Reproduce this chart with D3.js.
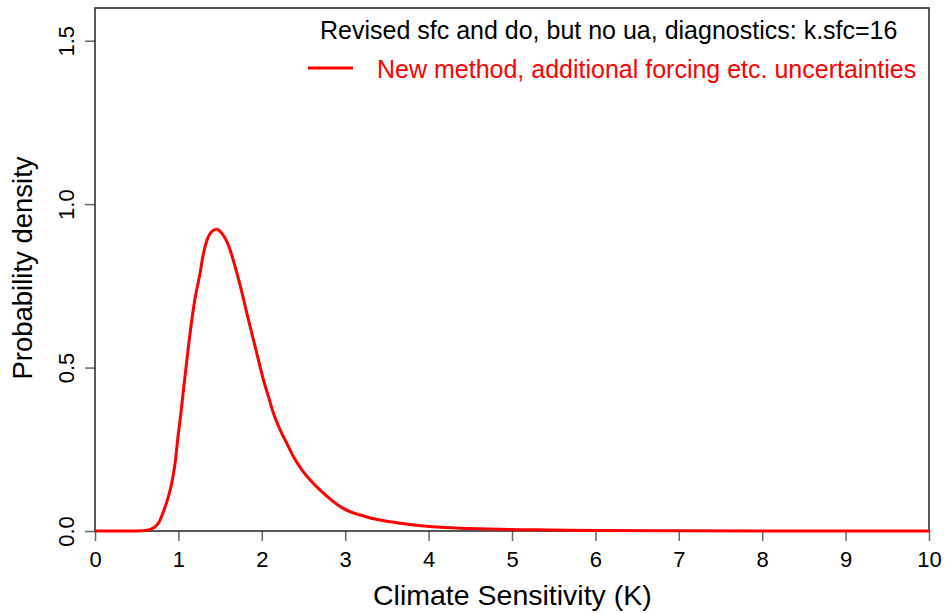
<!DOCTYPE html>
<html>
<head>
<meta charset="utf-8">
<script src="https://cdn.jsdelivr.net/npm/d3@7"></script>
<style>
  body { margin: 0; background: #fff; }
  text { font-family: Arial, "Liberation Sans", sans-serif; }
</style>
</head>
<body>
<div id="chart"></div>
<script>
// Data
const sensitivity = [0, 0.5, 0.64, 0.76, 0.82, 0.88, 0.92, 0.96, 1.0, 1.03, 1.06, 1.10, 1.15, 1.20, 1.26, 1.29,
  1.34, 1.40, 1.46, 1.52, 1.58, 1.62, 1.68, 1.74, 1.78, 1.84, 1.90, 1.96, 2.02, 2.08, 2.14, 2.22, 2.30,
  2.38, 2.48, 2.58, 2.70, 2.97, 3.26, 3.66, 4.05, 4.46, 4.86, 5.5, 6.0, 7.0, 8.0, 10.0]
const density = [0, 0, 0.003, 0.024, 0.059, 0.105, 0.146, 0.207, 0.299, 0.36, 0.43, 0.52, 0.625, 0.712, 0.789, 0.835,
  0.888, 0.916, 0.923, 0.911, 0.886, 0.86, 0.809, 0.752, 0.71, 0.646, 0.585, 0.523, 0.462, 0.411, 0.36, 0.309, 0.268,
  0.227, 0.187, 0.156, 0.125, 0.07, 0.043, 0.024, 0.013, 0.008, 0.005, 0.003, 0.0015, 0.0005, 0.0002, 0]
const xTicks = [0, 1, 2, 3, 4, 5, 6, 7, 8, 9, 10]
const yTicks = [0, 0.5, 1.0, 1.5]
const titleText = 'Revised sfc and do, but no ua, diagnostics: k.sfc=16'
const seriesName = 'New method, additional forcing etc. uncertainties'

const dataset = sensitivity.map((s, i) => ({ s: s, d: density[i] }))

// Dimensions
let dimensions = {
  width: 947,
  height: 613,
  margins: { top: 8, right: 18, bottom: 82, left: 95 },
}
dimensions.ctrWidth = dimensions.width - dimensions.margins.left - dimensions.margins.right
dimensions.ctrHeight = dimensions.height - dimensions.margins.top - dimensions.margins.bottom

const svg = d3.select('#chart')
  .append('svg')
  .attr('width', dimensions.width)
  .attr('height', dimensions.height)

const ctr = svg.append('g')
  .attr('transform', `translate(${dimensions.margins.left}, ${dimensions.margins.top})`)

// Scales
const xScale = d3.scaleLinear().domain([0, 10]).range([0, dimensions.ctrWidth])
const yScale = d3.scaleLinear().domain([0, 1.6]).range([dimensions.ctrHeight, 0])

// Axes
const xAxis = d3.axisBottom(xScale).tickValues(xTicks).tickSize(10).tickSizeOuter(0).tickFormat(d3.format('d'))
const xAxisGroup = ctr.append('g')
  .attr('transform', `translate(0, ${dimensions.ctrHeight})`)
  .call(xAxis)
xAxisGroup.selectAll('.tick text')
  .attr('y', 36).attr('dy', 0)
  .style('font-size', '22px').attr('fill', '#000')

const yAxis = d3.axisLeft(yScale).tickValues(yTicks).tickSize(10).tickSizeOuter(0).tickFormat(d3.format('.1f'))
const yAxisGroup = ctr.append('g').call(yAxis)
yAxisGroup.selectAll('.tick text')
  .attr('transform', 'rotate(-90)')
  .attr('x', 0).attr('y', -21).attr('dy', 0)
  .attr('text-anchor', 'middle')
  .style('font-size', '22px').attr('fill', '#000')

ctr.selectAll('.tick line').attr('stroke', '#666').attr('stroke-width', 1.5)
ctr.selectAll('.domain').remove()

// Box
ctr.append('rect')
  .attr('width', dimensions.ctrWidth)
  .attr('height', dimensions.ctrHeight)
  .attr('fill', 'none')
  .attr('stroke', '#222')
  .attr('stroke-width', 1.5)

// Line
const lineGenerator = d3.line()
  .x(d => xScale(d.s))
  .y(d => yScale(d.d))
  .curve(d3.curveMonotoneX)
ctr.append('path')
  .datum(dataset)
  .attr('d', lineGenerator)
  .attr('fill', 'none')
  .attr('stroke', '#ff0000')
  .attr('stroke-width', 3)
  .attr('stroke-linejoin', 'round')

// Axis titles
svg.append('text')
  .attr('x', 373)
  .attr('y', 605)
  .style('font-size', '28.5px')
  .text('Climate Sensitivity (K)')

svg.append('text')
  .attr('transform', `translate(32, 268) rotate(-90)`)
  .attr('text-anchor', 'middle')
  .style('font-size', '27.5px')
  .text('Probability density')

// Legend
svg.append('text')
  .attr('x', 320)
  .attr('y', 38.5)
  .style('font-size', '25px')
  .text(titleText)

svg.append('line')
  .attr('x1', 308).attr('x2', 353)
  .attr('y1', 68).attr('y2', 68)
  .attr('stroke', '#ff0000').attr('stroke-width', 3)

svg.append('text')
  .attr('x', 377)
  .attr('y', 77.5)
  .attr('fill', '#ff0000')
  .style('font-size', '25px')
  .text(seriesName)
</script>
</body>
</html>
